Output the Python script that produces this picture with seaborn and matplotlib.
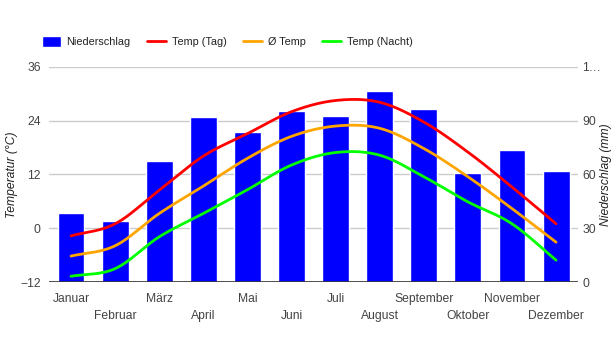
import numpy as np
import pandas as pd
import matplotlib
matplotlib.use("Agg")
import matplotlib.pyplot as plt
from matplotlib.patches import Patch
import seaborn as sns

months = ["Januar", "Februar", "März", "April", "Mai", "Juni", "Juli",
          "August", "September", "Oktober", "November", "Dezember"]
niederschlag = [38.7, 34.0, 67.7, 92.2, 83.9, 95.6, 92.8, 106.8, 96.7, 61.0, 73.8, 62.1]
temp_tag = [-1.7, 1.0, 8.5, 16.1, 21.1, 26.0, 28.5, 28.1, 23.7, 17.0, 9.2, 1.0]
temp_mittel = [-6.2, -3.9, 3.3, 9.4, 15.6, 20.5, 22.8, 22.3, 17.8, 11.5, 4.4, -3.1]
temp_nacht = [-10.7, -9.0, -1.9, 3.3, 8.6, 14.1, 16.9, 16.3, 11.5, 5.9, 1.0, -7.1]

left_ticks = [-12, 0, 12, 24, 36]
right_ticks = [0, 30, 60, 90, 120]
right_labels = ["0", "30", "60", "90", "1…"]


def smooth(y, n=20):
    # catmull-rom curve through the monthly values (just for the look)
    y = np.asarray(y, dtype=float)
    p = np.concatenate([[2 * y[0] - y[1]], y, [2 * y[-1] - y[-2]]])
    xs, ys = [], []
    for i in range(len(y) - 1):
        t = np.linspace(0, 1, n, endpoint=False)
        p0, p1, p2, p3 = p[i], p[i + 1], p[i + 2], p[i + 3]
        seg = 0.5 * ((2 * p1) + (-p0 + p2) * t + (2 * p0 - 5 * p1 + 4 * p2 - p3) * t ** 2
                     + (-p0 + 3 * p1 - 3 * p2 + p3) * t ** 3)
        xs.extend(i + t)
        ys.extend(seg)
    xs.append(len(y) - 1)
    ys.append(y[-1])
    return np.array(xs), np.array(ys)


sns.set_style("white")
plt.rcParams["font.family"] = ["Liberation Sans", "DejaVu Sans"]

fig = plt.figure(figsize=(6.16, 3.5), dpi=100)
ax = fig.add_axes([0.0795, 0.194, 0.859, 0.615])
ax2 = ax.twinx()

df = pd.DataFrame({"Monat": months, "Niederschlag": niederschlag})
sns.barplot(data=df, x="Monat", y="Niederschlag", ax=ax2, color="#0000ff",
            saturation=1, width=0.61, zorder=2)
ax2.set_ylim(0, 120)
ax2.set_yticks(right_ticks)
ax2.set_yticklabels(right_labels)
ax2.grid(axis="y", color="#cccccc", linewidth=1, zorder=0)
ax2.set_axisbelow(True)
ax2.set_ylabel("Niederschlag (mm)", fontstyle="italic", fontsize=8.7, color="#222222")
ax2.yaxis.set_label_coords(1.041, 0.5)

colors = {"Temp (Tag)": "#ff0000", "Ø Temp": "#ffa500", "Temp (Nacht)": "#00ff00"}
for name, vals in [("Temp (Tag)", temp_tag), ("Ø Temp", temp_mittel), ("Temp (Nacht)", temp_nacht)]:
    xs, ys = smooth(vals)
    sns.lineplot(x=xs, y=ys, ax=ax, color=colors[name], linewidth=2, sort=False,
                 estimator=None, label=name)

ax.set_zorder(ax2.get_zorder() + 1)
ax.patch.set_visible(False)
ax.set_ylim(-12, 36)
ax.set_yticks(left_ticks)
ax.set_xlim(-0.5, 11.5)
ax.set_ylabel("Temperatur (°C)", fontstyle="italic", fontsize=8.7, color="#222222")
ax.yaxis.set_label_coords(-0.058, 0.5)
ax.set_xlabel("")
ax2.set_xlabel("")

# two rows of month names: odd months on top, even months below
ax.set_xticks(range(0, 12, 2))
ax.set_xticklabels(months[0::2])
ax.set_xticks(range(1, 12, 2), minor=True)
ax.set_xticklabels(months[1::2], minor=True)

for a in (ax, ax2):
    a.tick_params(axis="both", which="both", length=0, labelsize=8.7, labelcolor="#444444")
    for s in a.spines.values():
        s.set_visible(False)
ax.tick_params(axis="x", which="major", pad=8)
ax.tick_params(axis="x", which="minor", pad=20)
ax.tick_params(axis="y", pad=6)
ax2.tick_params(axis="y", pad=3)
ax2.tick_params(axis="x", labelbottom=False)
ax2.axhline(0, color="#333333", linewidth=1.2, zorder=3)

# legend
handles, labels = ax.get_legend_handles_labels()
bar_handle = Patch(facecolor="#0000ff", label="Niederschlag")
leg = ax.legend([bar_handle] + handles, ["Niederschlag"] + labels, loc="center left",
                bbox_to_anchor=(-0.013, 1.116), ncol=4, frameon=False, fontsize=7.8,
                handlelength=1.75, handleheight=1.1, columnspacing=1.55, handletextpad=0.5,
                borderaxespad=0, borderpad=0)
for t in leg.get_texts():
    t.set_color("#222222")
if ax2.get_legend():
    ax2.get_legend().remove()

fig.savefig("out.png", dpi=100)
